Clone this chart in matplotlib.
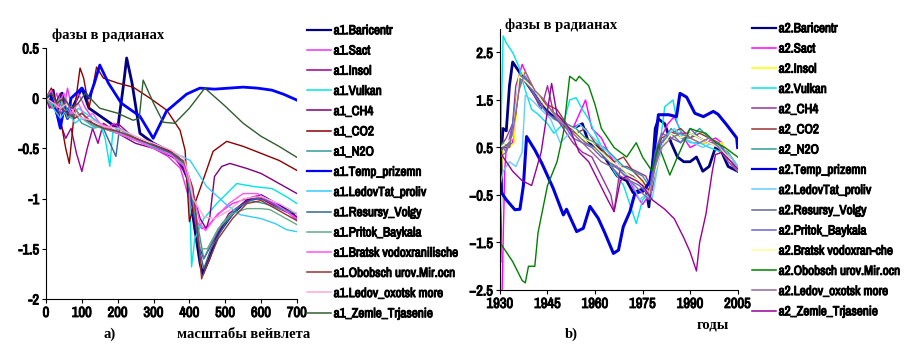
import matplotlib
matplotlib.use("Agg")
import matplotlib.pyplot as plt
import matplotlib.patheffects as pe
from matplotlib.lines import Line2D
from matplotlib import font_manager

# pick a narrow sans face if one is installed (the original uses Arial Narrow)
_fonts = font_manager.fontManager.ttflist
_narrow = sorted({f.name for f in _fonts if 'Narrow' in f.name or 'Condensed' in f.name})
if _narrow:
    SANS = dict(family=[_narrow[0], 'DejaVu Sans'], stretch='normal')
    NARROW = True
    _has_bold = any(f.name == _narrow[0] and f.weight in (600, 700, 800, 'bold') for f in _fonts)
elif any(f.name == 'DejaVu Sans' and f.stretch == 'condensed' for f in _fonts):
    SANS = dict(family=['DejaVu Sans'], stretch='condensed')
    NARROW = True
    _has_bold = True
else:
    SANS = dict(family=['Liberation Sans', 'DejaVu Sans'], stretch='normal')
    NARROW = False
    _has_bold = True
# fake the bold weight with a thin stroke when the face has no bold
FAKE_BOLD = [] if _has_bold else [pe.withStroke(linewidth=0.7, foreground='black')]

# ---------- panel a): phases vs wavelet scale ----------
a_names = ["a1.Baricentr", "a1.Sact", "a1.Insol", "a1.Vulkan", "a1_CH4", "a1_CO2", "a1_N2O",
           "a1.Temp_prizemn", "a1.LedovTat_proliv", "a1.Resursy_Volgy", "a1.Pritok_Baykala",
           "a1.Bratsk vodoxranilische", "a1.Obobsch urov.Mir.ocn", "a1.Ledov_oxotsk more",
           "a1_Zemle_Trjasenie"]
a_colors = ["#000080", "#ee33ee", "#990099", "#00e5e5", "#800080", "#8b0000", "#339999",
            "#0000ff", "#33ccff", "#336699", "#66aa88", "#ff55ff", "#993333", "#ffaacc",
            "#2f5f2f"]
a_widths = [2.0, 1, 1, 1, 1, 1, 1, 2.0, 1, 1, 1, 1, 1, 1, 1]

a_x = [
    [0, 10, 20, 30, 45, 60, 80, 100, 120, 140, 160, 180, 200, 215, 225, 240, 262, 300, 340, 370, 395, 415, 430, 437, 455, 480, 520, 560, 600, 640, 680, 700],
    [0, 15, 30, 45, 60, 75, 90, 110, 130, 150, 170, 190, 220, 260, 300, 340, 375, 395, 415, 435, 450, 480, 520, 560, 590, 630, 670, 700],
    [0, 10, 25, 40, 55, 70, 85, 100, 115, 130, 145, 160, 180, 200, 240, 280, 320, 360, 390, 410, 425, 440, 470, 510, 560, 600, 650, 700],
    [0, 15, 30, 50, 70, 90, 110, 130, 150, 165, 178, 186, 200, 240, 280, 320, 360, 385, 400, 406, 415, 440, 476, 532, 580, 630, 670, 700],
    [0, 20, 40, 60, 80, 100, 130, 160, 200, 250, 300, 350, 380, 410, 430, 447, 457, 470, 490, 513, 560, 600, 650, 700],
    [0, 15, 30, 45, 55, 65, 80, 95, 105, 120, 141, 160, 200, 243, 290, 337, 374, 388, 394, 400, 410, 430, 466, 504, 550, 600, 650, 690, 700],
    [0, 20, 40, 60, 80, 100, 130, 160, 200, 250, 300, 350, 380, 405, 425, 440, 460, 490, 530, 570, 610, 650, 700],
    [0, 15, 30, 40, 50, 60, 70, 85, 100, 120, 135, 150, 174, 210, 262, 299, 336, 392, 429, 470, 510, 550, 590, 630, 662, 694, 700],
    [0, 20, 40, 60, 80, 100, 130, 160, 200, 250, 300, 350, 380, 402, 448, 500, 541, 600, 640, 671, 700],
    [0, 20, 40, 60, 80, 100, 130, 160, 195, 205, 250, 300, 350, 385, 410, 428, 440, 460, 500, 540, 580, 620, 660, 700],
    [0, 20, 40, 60, 80, 100, 130, 160, 200, 250, 300, 350, 385, 410, 430, 450, 480, 520, 560, 600, 625, 660, 700],
    [0, 15, 30, 50, 70, 90, 110, 130, 150, 175, 200, 250, 300, 350, 385, 410, 430, 445, 470, 510, 550, 590, 640, 700],
    [0, 20, 40, 60, 80, 100, 130, 160, 200, 250, 300, 350, 385, 410, 425, 434, 450, 480, 520, 560, 600, 640, 700],
    [0, 20, 40, 60, 80, 100, 130, 160, 200, 250, 300, 350, 385, 400, 410, 440, 470, 510, 550, 600, 650, 700],
    [0, 15, 30, 50, 70, 90, 110, 150, 200, 243, 260, 271, 300, 327, 359, 400, 443, 500, 550, 600, 650, 700],
]
a_y = [
    [0.0, -0.05, 0.08, -0.15, 0.05, -0.2, -0.05, 0.1, -0.1, -0.15, -0.2, -0.25, -0.3, 0.1, 0.4, 0.15, -0.35, -0.45, -0.52, -0.6, -0.8, -1.3, -1.65, -1.75, -1.6, -1.35, -1.15, -1.02, -0.97, -1.05, -1.12, -1.2],
    [0.0, -0.1, 0.05, -0.2, 0.1, -0.15, 0.05, -0.1, -0.2, -0.25, -0.3, -0.25, -0.35, -0.42, -0.5, -0.58, -0.7, -0.95, -1.2, -1.3, -1.28, -1.15, -1.05, -1.0, -0.97, -1.05, -1.12, -1.22],
    [0.0, -0.1, 0.0, -0.25, -0.4, -0.3, -0.55, -0.73, -0.5, -0.3, -0.45, -0.25, -0.3, -0.25, -0.38, -0.45, -0.52, -0.6, -0.75, -1.1, -1.45, -1.6, -1.4, -1.15, -1.02, -1.0, -1.1, -1.18],
    [0.0, -0.05, -0.15, -0.05, -0.2, -0.1, -0.15, -0.2, -0.25, -0.4, -0.68, -0.35, -0.3, -0.38, -0.45, -0.5, -0.57, -0.65, -0.9, -1.68, -1.4, -1.2, -1.05, -0.85, -0.88, -0.9, -0.98, -1.05],
    [0.0, -0.1, 0.05, -0.15, -0.1, -0.2, -0.25, -0.3, -0.35, -0.45, -0.5, -0.58, -0.65, -0.95, -1.2, -1.3, -1.18, -0.78, -0.68, -0.65, -0.7, -0.75, -0.85, -0.95],
    [0.0, 0.1, -0.05, -0.3, -0.5, -0.65, -0.1, 0.3, 0.2, -0.1, 0.31, 0.2, 0.15, 0.11, 0.0, -0.12, -0.32, -0.52, -0.88, -1.23, -1.1, -0.9, -0.53, -0.43, -0.48, -0.55, -0.62, -0.7, -0.72],
    [0.0, -0.1, -0.05, -0.2, -0.15, -0.25, -0.3, -0.28, -0.33, -0.4, -0.48, -0.55, -0.62, -0.85, -1.3, -1.6, -1.45, -1.25, -1.1, -1.02, -1.05, -1.1, -1.15],
    [0.0, 0.05, -0.15, -0.3, -0.1, -0.2, 0.0, 0.05, 0.1, 0.0, 0.15, 0.33, 0.15, -0.05, -0.18, -0.4, -0.13, 0.04, 0.1, 0.09, 0.1, 0.11, 0.1, 0.08, 0.04, -0.01, -0.02],
    [0.0, -0.1, -0.2, -0.1, -0.25, -0.2, -0.28, -0.3, -0.35, -0.42, -0.48, -0.55, -0.58, -0.62, -0.88, -1.05, -1.16, -1.2, -1.25, -1.31, -1.33],
    [0.0, -0.05, -0.15, -0.1, -0.2, -0.15, -0.25, -0.3, -0.58, -0.3, -0.4, -0.47, -0.55, -0.65, -1.05, -1.5, -1.7, -1.5, -1.25, -1.08, -1.0, -1.02, -1.1, -1.15],
    [0.0, -0.1, 0.0, -0.2, -0.1, -0.2, -0.27, -0.3, -0.35, -0.42, -0.5, -0.57, -0.66, -1.0, -1.5, -1.5, -1.3, -1.15, -1.1, -1.1, -1.11, -1.18, -1.26],
    [0.0, 0.08, -0.1, 0.05, -0.15, -0.05, -0.2, -0.15, -0.25, -0.3, -0.35, -0.42, -0.5, -0.57, -0.68, -0.95, -1.25, -1.32, -1.2, -1.05, -0.95, -0.95, -1.05, -1.2],
    [0.0, -0.05, -0.1, -0.15, -0.2, -0.15, -0.25, -0.3, -0.33, -0.4, -0.47, -0.54, -0.63, -0.9, -1.4, -1.8, -1.65, -1.4, -1.2, -1.05, -1.02, -1.1, -1.22],
    [0.0, -0.05, -0.1, -0.05, -0.15, -0.2, -0.22, -0.28, -0.3, -0.38, -0.45, -0.52, -0.6, -0.8, -1.0, -1.18, -1.2, -1.12, -1.0, -0.98, -1.05, -1.15],
    [0.0, 0.05, -0.05, 0.0, -0.1, -0.05, 0.05, -0.1, -0.15, -0.22, -0.2, 0.18, -0.05, -0.24, -0.25, -0.1, 0.1, -0.08, -0.25, -0.38, -0.48, -0.59],
]

# ---------- panel b): phases vs years ----------
b_names = ["a2.Baricentr", "a2.Sact", "a2.Insol", "a2.Vulkan", "a2_CH4", "a2_CO2", "a2_N2O",
           "a2.Temp_prizemn", "a2.LedovTat_proliv", "a2.Resursy_Volgy", "a2.Pritok_Baykala",
           "a2.Bratsk vodoxran-che", "a2.Obobsch urov.Mir.ocn", "a2.Ledov_oxotsk more",
           "a2_Zemle_Trjasenie"]
b_colors = ["#000080", "#ff00ff", "#ffff00", "#00e5e5", "#993399", "#993333", "#339999",
            "#0000dd", "#66ccff", "#666699", "#6666cc", "#ffff99", "#008000", "#996699",
            "#990099"]
b_widths = [2.0, 1, 1, 1, 1, 1, 1, 2.2, 1, 1, 1, 1, 1, 1, 1]

b_x = [
    [1930, 1930.5, 1931, 1932, 1933, 1934, 1935, 1937, 1940, 1943, 1946, 1950, 1953, 1956, 1958, 1961, 1964, 1967, 1970, 1972, 1974, 1976, 1977, 1978, 1979, 1980, 1982, 1984, 1986, 1988, 1990, 1992, 1994, 1996, 1998, 2000, 2002, 2005],
    [1930.7, 1931, 1931.5, 1932, 1934, 1936, 1937, 1940, 1943, 1946, 1950, 1953, 1955, 1957, 1959, 1962, 1965, 1968, 1971, 1973, 1975, 1978, 1980, 1983, 1985, 1988, 1990, 1993, 1995, 1998, 2000, 2002, 2005],
    [1930, 1931, 1933, 1934.5, 1936, 1938, 1941, 1944, 1947, 1950, 1953, 1956, 1959, 1962, 1965, 1968, 1971, 1973, 1975, 1977, 1979, 1981, 1984, 1987, 1990, 1993, 1996, 2000, 2003, 2005],
    [1930, 1931, 1932, 1934, 1936, 1938, 1939, 1940, 1942, 1945, 1947, 1950, 1952, 1954, 1956, 1958, 1960, 1963, 1966, 1969, 1972, 1973, 1975, 1978, 1980, 1982, 1984.6, 1986, 1988, 1990, 1993, 1996, 2000, 2005],
    [1930, 1932, 1934, 1935, 1936, 1938, 1940, 1943, 1945, 1947, 1950, 1953, 1956, 1959, 1962, 1965, 1966, 1968, 1970, 1973, 1976, 1978, 1980, 1983, 1986, 1990, 1993, 1996, 2000, 2003, 2005],
    [1930, 1931, 1933, 1935, 1936.5, 1939, 1942, 1945, 1948, 1951, 1954, 1957, 1960, 1963, 1966, 1969, 1972, 1975, 1977, 1979, 1981, 1984, 1987, 1990, 1993, 1996, 1999, 2002, 2005],
    [1930, 1931, 1933, 1935, 1937, 1939, 1942, 1945, 1948, 1951, 1954, 1957, 1960, 1963, 1966, 1969, 1972, 1975, 1977, 1979, 1981, 1984, 1987, 1990, 1993, 1996, 1999, 2002, 2005],
    [1930, 1930.5, 1932, 1934.7, 1936.3, 1937.4, 1938.4, 1941, 1943.2, 1946.8, 1950, 1951, 1954.2, 1956.3, 1958.4, 1961, 1963.1, 1965.8, 1967.4, 1968.9, 1971, 1972.6, 1975.2, 1977.3, 1978.5, 1980, 1983.2, 1985.7, 1986.8, 1988.9, 1991.5, 1994.2, 1997.3, 1998.8, 2001.5, 2004.7, 2005],
    [1930, 1931, 1933, 1935, 1937, 1938, 1940, 1943, 1946, 1949, 1952, 1955, 1958, 1961, 1964, 1967, 1970, 1972, 1974, 1976, 1978, 1980, 1982, 1985, 1988, 1991, 1994, 1997, 2000, 2003, 2005],
    [1930, 1931, 1933, 1935, 1936.5, 1939, 1942, 1945, 1948, 1951, 1954, 1957, 1960, 1963, 1966, 1969, 1972, 1975, 1977, 1979, 1981, 1984, 1987, 1990, 1993, 1996, 1999, 2002, 2005],
    [1930, 1932, 1934, 1936, 1938, 1941, 1944, 1947, 1950, 1953, 1956, 1959, 1962, 1965, 1968, 1971, 1974, 1977, 1979, 1981, 1984, 1987, 1990, 1993, 1996, 1999, 2002, 2005],
    [1930, 1932, 1934, 1936, 1938, 1941, 1944, 1947, 1950, 1953, 1956, 1959, 1962, 1965, 1968, 1971, 1974, 1977, 1979, 1981, 1984, 1987, 1990, 1993, 1996, 1999, 2002, 2005],
    [1930, 1932, 1934, 1937, 1938, 1939, 1941, 1942, 1945, 1948, 1950, 1952, 1954, 1955, 1958, 1960, 1962, 1966, 1970, 1973, 1975, 1978, 1980, 1983.6, 1986, 1990, 1992, 1995, 1998, 2001, 2005],
    [1930, 1932, 1934, 1936, 1938, 1941, 1944, 1947, 1950, 1953, 1956, 1959, 1962, 1965, 1968, 1971, 1974, 1977, 1979, 1981, 1984, 1987, 1990, 1993, 1996, 1999, 2002, 2005],
    [1930, 1934, 1937, 1940, 1943, 1946.3, 1948, 1952, 1955, 1958, 1961, 1964, 1966, 1968, 1970, 1973, 1975, 1978, 1982, 1985, 1988, 1990, 1992, 1993, 1995, 1997, 1998, 2000, 2003, 2005],
]
b_y = [
    [-1.9, 0.5, 0.9, 0.85, 1.8, 2.3, 2.2, 2.0, 1.7, 1.4, 1.2, 1.0, 0.9, 1.0, 0.6, 0.5, 0.2, -0.1, -0.2, -0.45, -0.4, -0.35, -0.75, 0.0, 0.9, 1.1, 1.0, 0.6, 0.3, 0.2, 0.2, 0.3, 0.0, 0.1, 0.5, 0.4, 0.1, 0.0],
    [-2.5, -1.5, 0.0, 0.5, 0.6, 2.0, 2.25, 1.8, 1.5, 1.3, 1.0, 0.9, 1.2, 1.5, 0.9, 0.7, 0.3, 0.0, -0.2, -0.5, -0.7, -0.4, 0.6, 1.0, 1.15, 0.7, 0.5, 0.6, 0.6, 0.7, 0.6, 0.2, 0.0],
    [-1.5, 0.5, 0.5, 0.6, 2.0, 2.1, 1.7, 1.4, 1.2, 1.0, 0.8, 0.7, 0.5, 0.4, 0.2, 0.0, -0.1, -0.2, -0.2, -0.5, 0.3, 0.6, 0.8, 0.7, 0.7, 0.6, 0.6, 0.6, 0.3, 0.1],
    [0.0, 2.85, 2.7, 2.5, 2.2, 1.7, 1.5, 1.3, 1.2, 1.0, 0.8, 1.0, 1.5, 1.55, 1.3, 1.1, 0.8, 0.4, 0.0, -0.3, -0.9, -1.1, -0.6, -0.4, 0.3, 1.36, 1.5, 1.0, 0.7, 0.6, 0.6, 0.5, 0.4, 0.1],
    [0.5, 0.7, 1.0, 1.8, 2.0, 1.9, 1.7, 1.3, 1.8, 1.2, 0.9, 0.6, 0.4, 0.3, -0.1, -0.5, -0.85, 0.1, 0.1, 0.0, -0.1, -0.4, 0.5, 0.8, 0.8, 0.8, 0.7, 0.6, 0.5, 0.3, 0.1],
    [0.4, 0.5, 0.5, 1.2, 2.0, 1.9, 1.6, 1.4, 1.3, 1.0, 0.8, 0.9, 0.6, 0.4, 0.2, 0.3, 0.0, -0.2, -0.4, 0.3, 0.7, 0.8, 0.9, 0.7, 0.8, 0.7, 0.6, 0.3, 0.0],
    [0.5, 0.6, 0.5, 1.5, 2.0, 1.85, 1.6, 1.3, 1.2, 1.0, 0.9, 0.7, 0.6, 0.5, 0.3, 0.1, 0.0, -0.1, -0.3, 0.2, 0.6, 0.9, 0.7, 0.7, 0.9, 0.7, 0.5, 0.4, 0.1],
    [0.9, -0.45, -0.6, -0.81, -0.8, -0.3, 0.73, 0.45, 0.17, -0.36, -0.92, -0.8, -1.27, -1.2, -0.74, -0.99, -1.3, -1.73, -1.66, -1.17, -0.85, -0.46, -0.42, -0.22, 0.3, 1.19, 1.19, 1.15, 1.64, 1.56, 1.22, 1.15, 1.26, 1.2, 0.98, 0.7, 0.5],
    [-0.3, 0.0, 0.2, 0.1, 0.4, 1.6, 1.5, 1.3, 1.1, 0.6, 0.8, 1.0, 0.8, 0.6, 0.4, 0.2, -0.1, -0.3, -0.6, -0.5, -0.6, 0.2, 0.7, 0.9, 0.7, 0.6, 0.5, 0.6, 0.5, 0.3, 0.1],
    [0.4, 0.5, 0.6, 1.3, 2.0, 1.8, 1.5, 1.2, 1.1, 0.9, 0.8, 0.6, 0.5, 0.3, 0.1, 0.0, -0.1, -0.3, -0.5, 0.4, 0.8, 0.7, 0.6, 0.8, 0.7, 0.6, 0.5, 0.3, 0.0],
    [0.6, 0.4, 1.0, 1.9, 2.0, 1.6, 1.3, 1.1, 1.0, 0.7, 0.6, 0.5, 0.3, 0.2, 0.0, -0.2, -0.3, -0.5, 0.2, 0.6, 0.8, 0.6, 0.9, 0.7, 0.6, 0.6, 0.3, 0.0],
    [0.5, 0.6, 0.7, 2.0, 1.9, 1.7, 1.4, 1.2, 1.0, 0.9, 0.7, 0.6, 0.4, 0.2, 0.1, -0.1, -0.2, -0.5, 0.0, 0.5, 0.8, 0.7, 0.8, 0.7, 0.6, 0.5, 0.3, 0.05],
    [-1.5, -1.7, -1.9, -2.3, -2.35, -2.0, -2.0, -1.3, -0.3, 0.2, 0.8, 2.0, 1.9, 2.0, 1.8, 1.4, 0.9, 0.5, 0.3, 0.6, 0.3, 0.0, 0.55, -0.08, 0.3, 0.9, 0.85, 0.8, 0.6, 0.5, 0.3],
    [0.3, 0.4, 0.8, 1.7, 2.1, 1.7, 1.5, 1.2, 1.0, 0.8, 0.6, 0.4, 0.2, 0.1, -0.1, -0.2, -0.4, -0.6, 0.1, 0.5, 0.7, 0.8, 0.7, 0.6, 0.7, 0.5, 0.2, 0.0],
    [0.4, 0.0, -0.2, -0.3, 0.4, 1.85, 1.2, 0.9, 0.4, 0.2, -0.2, -0.6, -0.85, -0.2, -0.1, -0.2, -0.3, -0.6, -0.8, -1.0, -1.4, -1.7, -2.1, -1.5, -0.9, 0.0, 0.35, 0.4, 0.2, 0.05],
]

fig = plt.figure(figsize=(9.09, 3.54), dpi=100)
ax1 = fig.add_axes([0.0506, 0.1554, 0.2761, 0.7091])
ax2 = fig.add_axes([0.5500, 0.1808, 0.2615, 0.7380])

for xs, ys, c, w in zip(a_x, a_y, a_colors, a_widths):
    ax1.plot(xs, ys, color=c, lw=w)
for xs, ys, c, w in zip(b_x, b_y, b_colors, b_widths):
    ax2.plot(xs, ys, color=c, lw=w)

ax1.set_xlim(0, 700)
ax1.set_ylim(-2, 0.5)
ax1.set_xticks(range(0, 701, 100))
ax1.set_yticks([0.5, 0, -0.5, -1, -1.5, -2])
ax1.set_yticklabels(["0.5", "0", "-0.5", "-1", "-1.5", "-2"])

ax2.set_xlim(1930, 2005)
ax2.set_ylim(-2.5, 3.0)
ax2.set_xticks(range(1930, 2006, 15))
ax2.set_yticks([2.5, 1.5, 0.5, -0.5, -1.5, -2.5])

tick_size = 10.5 if NARROW else 8.5
for ax in (ax1, ax2):
    for s in ("top", "right"):
        ax.spines[s].set_visible(False)
    ax.tick_params(direction='out', length=3, width=0.8, pad=2)
    for lab in ax.get_xticklabels() + ax.get_yticklabels():
        lab.set_fontfamily(SANS['family'])
        lab.set_fontstretch(SANS['stretch'])
        lab.set_fontweight('bold')
        lab.set_fontsize(tick_size)
        lab.set_path_effects(FAKE_BOLD)

serif = ['Liberation Serif', 'DejaVu Serif']
fig.text(52 / 909, 1 - 35 / 354, "фазы в радианах", family=serif, weight='bold', size=10.5, va='center')
fig.text(505 / 909, 1 - 25 / 354, "фазы в радианах", family=serif, weight='bold', size=10.5, va='center')
fig.text(103 / 909, 1 - 334 / 354, "а)", family=serif, weight='bold', size=10.5, va='center')
fig.text(177 / 909, 1 - 334 / 354, "масштабы вейвлета", family=serif, weight='bold', size=10.5, va='center')
fig.text(565 / 909, 1 - 334 / 354, "b)", family=serif, weight='bold', size=10.5, va='center')
fig.text(697 / 909, 1 - 325 / 354, "годы", family=serif, weight='bold', size=10.5, va='center')

leg_size = 9.5 if NARROW else 7
leg_font = font_manager.FontProperties(family=SANS['family'], stretch=SANS['stretch'], weight='bold', size=leg_size)
spacing = (14.4 - 0.88 * leg_size) / leg_size + 0.045
h1 = [Line2D([], [], color=c, lw=1.6 if w > 1.5 else 1.1) for c, w in zip(a_colors, a_widths)]
h2 = [Line2D([], [], color=c, lw=1.6 if w > 1.5 else 1.1) for c, w in zip(b_colors, b_widths)]
for hs, names, x0, y0 in ((h1, a_names, 307, 25), (h2, b_names, 752, 23)):
    leg = fig.legend(hs, names, loc='upper left', bbox_to_anchor=(x0 / 909, 1 - y0 / 354), frameon=False,
                     prop=leg_font, handlelength=24 * 0.72 / leg_size, handletextpad=0.2,
                     labelspacing=spacing, borderpad=0, borderaxespad=0)
    for t in leg.get_texts():
        t.set_path_effects(FAKE_BOLD)

fig.savefig("out.png", dpi=100)
